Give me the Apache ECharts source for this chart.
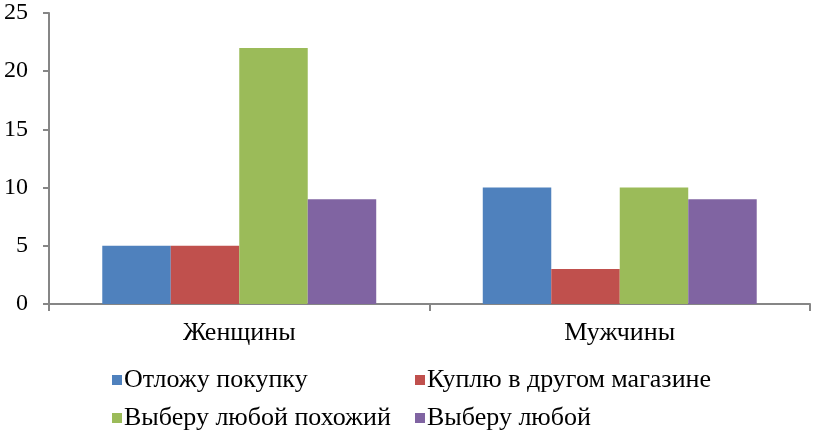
<!DOCTYPE html>
<html><head><meta charset="utf-8">
<script src="https://cdn.jsdelivr.net/npm/echarts@6/dist/echarts.min.js"></script>
<style>html,body{margin:0;padding:0;background:#fff}#c{width:814px;height:435px}</style>
</head><body><div id="c"></div>
<script>
var categories = ['Женщины', 'Мужчины'];
var seriesNames = ['Отложу покупку', 'Куплю в другом магазине', 'Выберу любой похожий', 'Выберу любой'];
var s1 = [5, 10];
var s2 = [5, 3];
var s3 = [22, 10];
var s4 = [9, 9];
var colors = ['#4F81BD', '#C0504D', '#9BBB59', '#8064A2'];
var font = '"Liberation Serif", "Times New Roman", serif';
var values = [s1, s2, s3, s4];
var legendPos = [[107, 362], [410, 362], [107, 400], [410, 400]];
var chart = echarts.init(document.getElementById('c'));
chart.setOption({
  animation: false,
  color: colors,
  grid: {left: 49, right: 4, top: 13, bottom: 131},
  legend: seriesNames.map(function (n, i) {
    return {
      data: [n], left: legendPos[i][0], top: legendPos[i][1],
      itemWidth: 10, itemHeight: 10, itemGap: 0, icon: 'rect',
      textStyle: {fontFamily: font, fontSize: 26, color: '#000', padding: [0, 0, 0, -3]}
    };
  }),
  xAxis: {
    type: 'category', data: categories,
    axisLine: {lineStyle: {color: '#868686', width: 2}},
    axisTick: {show: true, length: 7, lineStyle: {color: '#868686', width: 2}},
    axisLabel: {fontFamily: font, fontSize: 26, color: '#000', margin: 16}
  },
  yAxis: {
    type: 'value', min: 0, max: 25, interval: 5,
    axisLine: {show: true, lineStyle: {color: '#868686', width: 2}},
    axisTick: {show: true, length: 6, lineStyle: {color: '#868686', width: 2}},
    splitLine: {show: false},
    axisLabel: {fontFamily: font, fontSize: 24, color: '#000', margin: 21}
  },
  series: values.map(function (v, i) {
    return {
      name: seriesNames[i], type: 'bar', data: v,
      barGap: '0%', barCategoryGap: '28%'
    };
  })
});
</script></body></html>
